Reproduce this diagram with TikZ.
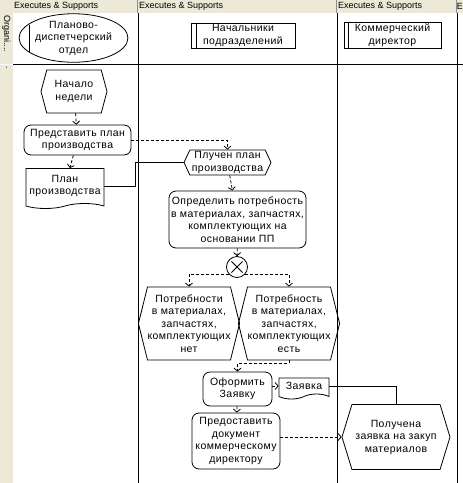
\documentclass[tikz,border=0pt]{standalone}
\usepackage{fontspec}
\setmainfont{Liberation Sans}
\usetikzlibrary{shapes.geometric,shapes.symbols,arrows.meta,calc}

\definecolor{panel}{RGB}{236,233,216}
\newcommand{\lbl}{\fontsize{10.5}{12.5}\selectfont\addfontfeatures{LetterSpace=4}}
\newcommand{\hdr}{\fontsize{9}{10}\selectfont}

\begin{document}
\begin{tikzpicture}[x=1pt,y=-1pt,
  every node/.style={font=\lbl,inner sep=0pt,align=center},
  lane/.style={draw=black,line width=0.9pt},
  flow/.style={line width=0.8pt,dash pattern=on 3pt off 2pt,-{Straight Barb[length=3pt,width=7pt]}},
  link/.style={line width=0.8pt},
  event/.style={signal,signal to=west and east,signal pointer angle=150,draw,line width=0.8pt},
  func/.style={rectangle,rounded corners=7pt,draw,line width=0.8pt},
  docu/.style={tape,tape bend top=none,tape bend bottom=in and out,tape bend height=5pt,draw,line width=0.8pt},
  orgunit/.style={rectangle,draw,line width=0.8pt},
  gate/.style={circle,draw,line width=0.8pt,minimum size=21pt},
  hdrtext/.style={font=\hdr,anchor=west}]
  \useasboundingbox (0,0) rectangle (463,483);
  \clip (0,0) rectangle (463,483);
  % panels and lanes
  \fill[panel] (0,0) rectangle (463,13);
  \fill[panel] (0,0) rectangle (13,483);
  \draw[white,line width=0.8pt] (0,64) -- (13,64);
  \draw[black!45,line width=0.6pt] (137.5,0) -- (137.5,13);
  \draw[black!45,line width=0.6pt] (336.5,0) -- (336.5,13);
  \draw[black!45,line width=0.6pt] (456.5,0) -- (456.5,13);
  \draw[lane] (138,13) -- (138,483);
  \draw[lane] (337,13) -- (337,483);
  \draw[lane] (457,13) -- (457,483);
  \draw[lane] (13,64) -- (463,64);
  \node[hdrtext] (h1) at (14,6.5) {Executes \& Supports};
  \node[hdrtext] (h2) at (139,6.5) {Executes \& Supports};
  \node[hdrtext] (h3) at (338,6.5) {Executes \& Supports};
  \node[font=\hdr,anchor=east] (h4) at (463,6.5) {E};
  \node[font=\hdr,anchor=west,rotate=-90] (row1) at (6.5,15) {Organi....};
  \node[font=\hdr,anchor=west,rotate=-90] (row2) at (6.5,66) {.};

  % org units
  \node[ellipse,draw,line width=0.8pt,minimum width=105pt,minimum height=40pt] (pdo) at (73.5,38) {Планово-\\диспетчерский\\отдел};
  \draw[link] ($(pdo.west)+(11,-13)$) -- ($(pdo.west)+(11,14)$);
  \node[orgunit,minimum width=104pt,minimum height=25pt] (nach) at (243,35.5) {Начальники\\подразделений};
  \draw[link] ([xshift=6pt]nach.north west) -- ([xshift=6pt]nach.south west);
  \node[orgunit,minimum width=97pt,minimum height=26pt] (kom) at (392.5,35) {Коммерческий\\директор};
  \draw[link] ([xshift=5pt]kom.north west) -- ([xshift=5pt]kom.south west);

  % process
  \node[event,minimum width=66pt,minimum height=43pt] (start) at (74,91.5) {Начало\\недели};
  \node[func,minimum width=107pt,minimum height=30pt] (pred) at (77.5,140) {Представить план\\производства};
  \node[docu,minimum width=78pt,minimum height=40pt] (plan) at (65,186) {План\\производства};
  \node[event,signal pointer angle=130,minimum width=87pt,minimum height=25pt] (plu) at (227.5,162.5) {Плучен план\\производства};
  \node[func,minimum width=137pt,minimum height=57pt] (opr) at (237.5,219.5) {Определить потребность\\в материалах, запчастях,\\комплектующих на\\основании ПП};
  \node[gate] (xor) at (237,267) {};
  \draw[link] ($(xor.center)!0.72!(xor.45)$) -- ($(xor.center)!0.72!(xor.225)$);
  \draw[link] ($(xor.center)!0.72!(xor.135)$) -- ($(xor.center)!0.72!(xor.-45)$);
  \node[event,signal pointer angle=152,minimum width=94pt,minimum height=73pt] (net) at (189,323.5) {Потребности\\в материалах,\\запчастях,\\комплектующих\\нет};
  \node[event,signal pointer angle=152,minimum width=96pt,minimum height=73pt] (est) at (289,323.5) {Потребность\\в материалах,\\запчастях,\\комплектующих\\есть};
  \node[func,minimum width=69pt,minimum height=34pt] (oform) at (237.5,389) {Оформить\\Заявку};
  \node[docu,minimum width=50pt,minimum height=21pt] (zay) at (304,386) {Заявка};
  \node[func,minimum width=88pt,minimum height=56pt] (predd) at (236,441) {Предоставить\\документ\\коммерческому\\директору};
  \node[event,signal pointer angle=146,minimum width=108pt,minimum height=65pt] (pol) at (396,437) {Получена\\заявка на закуп\\материалов};

  % connectors
  \draw[flow] (start) -- (pred);
  \draw[flow] (pred) -- (plan);
  \draw[flow] (pred.east) -| (plu.north);
  \draw[link] (plan.east) -- ++(31,0) |- (plu.west);
  \draw[flow] (plu) -- (opr);
  \draw[flow] (opr) -- (xor);
  \draw[flow] (xor.-138) -| (net.north);
  \draw[flow] (xor.-42) -| (est.north);
  \draw[flow] (est.south) -- ++(0,3) -| (oform.north);
  \draw[flow] (zay.west -| oform.east) -- (zay.west);
  \draw[link] (zay.east) -| (pol.north);
  \draw[flow] (oform) -- (predd);
  \draw[flow] (pol.west -| predd.east) -- (pol.west);
\end{tikzpicture}
\end{document}
